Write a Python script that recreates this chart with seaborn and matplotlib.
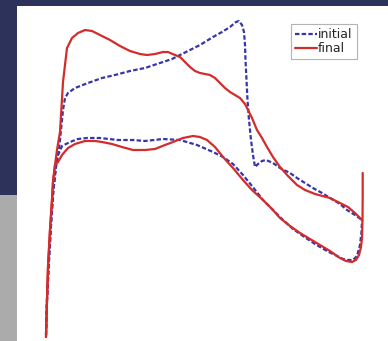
import numpy as np
import pandas as pd
import seaborn as sns
import matplotlib
matplotlib.use("Agg")
import matplotlib.pyplot as plt
from matplotlib.patches import Rectangle

# ---- data (horizontal position, depth-like vertical value) ----
initial_upper_x = [46, 47, 49, 51, 53, 55, 57, 59, 61, 63, 65, 68, 75, 88, 102, 115, 130, 145, 160, 172,
                   180, 190, 200, 213, 222, 230, 236, 239, 242, 244, 245, 245.5, 246.5, 247.5, 249, 251,
                   253, 255, 258, 262, 266, 273, 280, 290, 297, 305, 313, 322, 330, 340, 347, 355, 362]
initial_upper_y = [335, 300, 260, 225, 195, 175, 160, 150, 130, 110, 98, 93, 88, 83, 78, 75, 71, 68, 63, 59,
                   55, 50, 45, 37, 32, 27, 22, 21, 25, 32, 45, 60, 80, 100, 120, 140,
                   155, 167, 164, 161, 160, 163, 168, 173, 178, 183, 188, 193, 198, 204, 210, 215, 220]

initial_lower_x = [46, 47, 49, 51, 53, 55, 56, 58, 62, 70, 78, 87, 100, 118, 133, 145, 163, 180, 197, 213,
                   223, 233, 243, 252, 263, 273, 283, 293, 303, 315, 327, 337, 343, 348, 353, 357, 360,
                   361.5, 362]
initial_lower_y = [335, 300, 260, 225, 195, 175, 165, 155, 146, 142, 139, 138, 138, 140, 140, 141, 139, 140,
                   145, 152, 157, 164, 175, 186, 200, 210, 220, 229, 236, 244, 251, 256, 259, 260, 260,
                   256, 245, 232, 220]

final_upper_x = [46, 47, 48, 50, 52, 53, 55, 57, 60, 63, 67, 72, 78, 85, 92, 100, 110, 120, 130, 140, 147,
                 155, 163, 168, 175, 180, 185, 190, 195, 200, 205, 210, 215, 220, 225, 230, 235, 240, 245,
                 248, 252, 257, 262, 267, 273, 280, 288, 297, 305, 315, 330, 340, 348, 355, 362]
final_upper_y = [337, 300, 267, 230, 200, 182, 165, 150, 132, 82, 48, 38, 33, 30, 31, 35, 40, 46, 51, 54, 55,
                 54, 52, 52, 55, 57, 62, 67, 71, 73, 74, 75, 78, 83, 88, 92, 95, 98, 104,
                 110, 118, 130, 138, 147, 157, 167, 176, 185, 190, 194, 198, 203, 207, 213, 220]

final_lower_x = [46, 47, 48, 50, 52, 53, 55, 58, 62, 68, 75, 85, 95, 102, 112, 122, 133, 145, 155, 165, 173,
                 183, 193, 200, 207, 215, 223, 233, 243, 252, 263, 272, 280, 290, 300, 310, 320, 330, 340,
                 346, 352, 356, 359, 361, 362, 362.5, 362.7, 362.7]
final_lower_y = [337, 300, 267, 230, 200, 182, 165, 162, 155, 148, 144, 141, 141, 142, 144, 147, 150, 150,
                 149, 145, 142, 138, 136, 137, 140, 147, 157, 168, 180, 190, 200, 209, 218, 226, 233, 239,
                 245, 251, 258, 261, 262, 260, 255, 247, 238, 220, 195, 173]

series_names = ["initial", "final"]

# ---- build long table ----
rows = []
for series, branch, xs, ys in [
    ("initial", "upper", initial_upper_x, initial_upper_y),
    ("initial", "lower", initial_lower_x, initial_lower_y),
    ("final", "upper", final_upper_x, final_upper_y),
    ("final", "lower", final_lower_x, final_lower_y),
]:
    for i, (x, y) in enumerate(zip(xs, ys)):
        rows.append({"x": x, "y": y, "series": series, "branch": branch, "order": i})
df = pd.DataFrame(rows)

sns.set_theme(style="white")
plt.rcParams["font.family"] = ["DejaVu Sans"]

W, H = 388, 341
fig = plt.figure(figsize=(W / 100, H / 100), dpi=100, facecolor="#2c3259")
# gray block lower-left
fig.patches.append(Rectangle((0, 0), 17 / W, (341 - 195) / H, transform=fig.transFigure,
                             facecolor="#ababab", edgecolor="none", zorder=0))

ax = fig.add_axes([17 / W, 0, (W - 17) / W, (H - 6) / H])
ax.set_facecolor("white")

palette = {"initial": "#3636a8", "final": "#d42b2b"}
dashes = {"initial": (2, 1), "final": ""}
sns.lineplot(data=df, x="x", y="y", hue="series", style="series", units="branch",
             estimator=None, sort=False, palette=palette, dashes=dashes,
             hue_order=series_names, style_order=series_names,
             linewidth=1.6, ax=ax)

ax.set_xlim(17, 388)
ax.set_ylim(341, 6)
ax.set_xticks([])
ax.set_yticks([])
ax.set_xlabel("")
ax.set_ylabel("")
for s in ax.spines.values():
    s.set_visible(False)

handles, labels = ax.get_legend_handles_labels()
leg = ax.legend(handles, labels, loc="upper right",
                bbox_to_anchor=(357 / W, 1 - 24 / H), bbox_transform=fig.transFigure,
                fontsize=9, frameon=True, fancybox=False, borderpad=0.35,
                handlelength=1.75, handletextpad=0.1, labelspacing=0.05, borderaxespad=0)
leg.get_frame().set_edgecolor("#a0a0a0")
leg.get_frame().set_linewidth(0.8)

fig.savefig("out.png", dpi=100, facecolor=fig.get_facecolor())
